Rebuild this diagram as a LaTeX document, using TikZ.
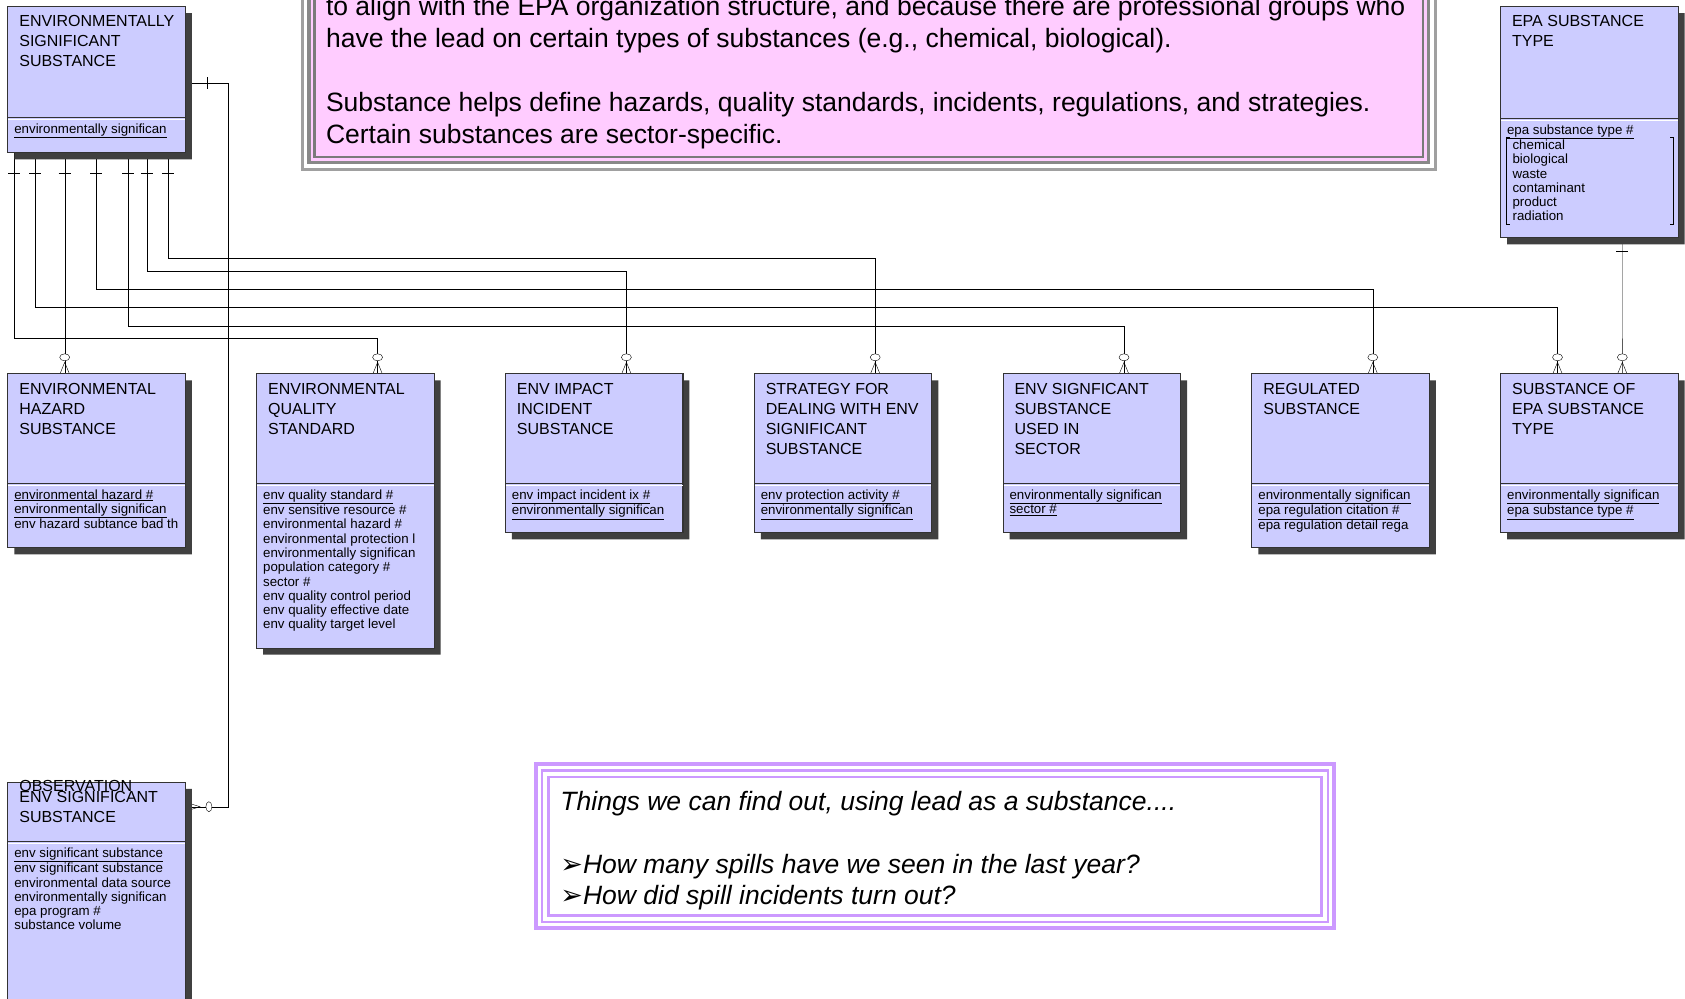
\documentclass[tikz,border=0pt]{standalone}
\usepackage{fontspec}
\setmainfont{Liberation Sans}
\newfontfamily\arrowfont{DejaVu Sans}
\usetikzlibrary{positioning, shapes.multipart, shadows, backgrounds}
\definecolor{entblue}{RGB}{204, 204, 255}
\definecolor{entshadow}{RGB}{64, 64, 64}
\definecolor{notepink}{RGB}{255, 204, 255}
\definecolor{notegray}{RGB}{136, 136, 136}
\definecolor{notepurple}{RGB}{204, 153, 255}
\newcommand{\enttitle}[2][97.5pt]{\parbox[t][#1][t]{160pt}{\vspace*{3pt}\fontsize{16}{20}\selectfont\leftskip=5pt #2}}
\newcommand{\entattrs}[2]{\parbox[t][#1][t]{164pt}{#2}}

\begin{document}
\begin{tikzpicture}[x=1pt, y=-1pt, line width=0.9pt,
    entity/.style={rectangle split, rectangle split parts=2, rectangle split part align=left,
      draw=black!80, fill=entblue, line width=1.1pt, minimum width=177.5pt,
      inner xsep=6.5pt, inner ysep=5.5pt, font=\fontsize{13.3}{14.3}\selectfont,
      drop shadow={shadow xshift=6.5pt, shadow yshift=-6.5pt, fill=entshadow, opacity=1}}]
  \useasboundingbox (0,0) rectangle (1685,998);

  \fill[white] (301,-100) rectangle (1436.7,170.7);
  \draw[notegray!80, line width=3pt] (302.5,-100) rectangle (1435.2,169.2);
  \draw[notegray, line width=3.5pt, fill=notepink] (309,-100) rectangle (1428.7,162.7);
  \draw[notegray!90!black, line width=2.5pt] (314.5,-100) rectangle (1423.2,157.2);
  \node[anchor=south west, inner sep=0pt, align=left, font=\fontsize{26.5}{32}\selectfont] (why) at (325.6,149.6)
    {to align with the EPA organization structure, and because there are professional groups who\\
     have the lead on certain types of substances (e.g., chemical, biological).\\[32pt]
     Substance helps define hazards, quality standards, incidents, regulations, and strategies.\\
     Certain substances are sector-specific.};

  \fill[white] (534,762.3) rectangle (1336,930);
  \draw[notepurple, line width=3.7pt] (535.85,764.15) rectangle (1334.15,928.15);
  \draw[notepurple, line width=2.6pt] (542,770.3) rectangle (1328,922);
  \draw[notepurple, line width=2.6pt] (548.5,776.8) rectangle (1321.5,915.5);
  \node[anchor=south west, inner sep=0pt, align=left, font=\itshape\fontsize{26.5}{31.5}\selectfont] (ask) at (560,910.5)
    {Things we can find out, using lead as a substance....\\[31.5pt]
     {\arrowfont\upshape\fontsize{27}{31.5}\selectfont ➢}How many spills have we seen in the last year?\\
     {\arrowfont\upshape\fontsize{27}{31.5}\selectfont ➢}How did spill incidents turn out?};

  \node[entity, anchor=north west] (ess) at (7.3,6)
    {\enttitle[99pt]{ENVIRONMENTALLY\\SIGNIFICANT\\SUBSTANCE}
     \nodepart{two}\entattrs{23pt}{\underline{environmentally significan}}};
  \node[entity, anchor=north west] (ety) at (1500,6)
    {\enttitle[99.7pt]{EPA SUBSTANCE\\TYPE}
     \nodepart{two}\entattrs{107.3pt}{\underline{epa substance type \#}\\\hspace*{5.5pt}chemical\\\hspace*{5.5pt}biological\\
     \hspace*{5.5pt}waste\\\hspace*{5.5pt}contaminant\\\hspace*{5.5pt}product\\\hspace*{5.5pt}radiation}};
  \node[entity, anchor=north west] (haz) at (7.3,373.3)
    {\enttitle{ENVIRONMENTAL\\HAZARD\\SUBSTANCE}
     \nodepart{two}\entattrs{52.3pt}{\underline{environmental hazard \#}\\\underline{environmentally significan}\\env hazard subtance bad th}};
  \node[entity, right=70.2pt of haz.north east, anchor=north west] (eqs)
    {\enttitle{ENVIRONMENTAL\\QUALITY\\STANDARD}
     \nodepart{two}\entattrs{152.5pt}{\underline{env quality standard \#}\\env sensitive resource \#\\environmental hazard \#\\
     environmental protection l\\environmentally significan\\population category \#\\sector \#\\
     env quality control period\\env quality effective date\\env quality target level}};
  \node[entity, right=70.2pt of eqs.north east, anchor=north west] (imp)
    {\enttitle{ENV IMPACT\\INCIDENT\\SUBSTANCE}
     \nodepart{two}\entattrs{37.3pt}{\underline{env impact incident ix \#}\\\underline{environmentally significan}}};
  \node[entity, right=70.2pt of imp.north east, anchor=north west] (strat)
    {\enttitle{STRATEGY FOR\\DEALING WITH ENV\\SIGNIFICANT\\SUBSTANCE}
     \nodepart{two}\entattrs{37.3pt}{\underline{env protection activity \#}\\\underline{environmentally significan}}};
  \node[entity, right=70.2pt of strat.north east, anchor=north west] (sect)
    {\enttitle{ENV SIGNFICANT\\SUBSTANCE\\USED IN\\SECTOR}
     \nodepart{two}\entattrs{37.3pt}{\underline{environmentally significan}\\\underline{sector \#}}};
  \node[entity, right=70.2pt of sect.north east, anchor=north west] (reg)
    {\enttitle{REGULATED\\SUBSTANCE}
     \nodepart{two}\entattrs{52.3pt}{\underline{environmentally significan}\\\underline{epa regulation citation \#}\\epa regulation detail rega}};
  \node[entity, right=70.2pt of reg.north east, anchor=north west] (ofty)
    {\enttitle{SUBSTANCE OF\\EPA SUBSTANCE\\TYPE}
     \nodepart{two}\entattrs{37.3pt}{\underline{environmentally significan}\\\underline{epa substance type \#}}};
  \node[entity, anchor=north west] (obs) at (7.3,781.7)
    {\enttitle[47.3pt]{\leavevmode\rlap{\smash{\raisebox{10.5pt}{OBSERVATION}}}ENV SIGNIFICANT\\SUBSTANCE}
     \nodepart{two}\entattrs{146pt}{\underline{env significant substance}\\env significant substance\\environmental data source\\
     environmentally significan\\epa program \#\\substance volume}};

  \foreach \n in {ess, ety, haz, eqs, imp, strat, sect, reg, ofty, obs}
    \draw[white, line width=0.9pt] ([shift={(1pt,-1.6pt)}]\n.text split west) -- ([shift={(-1pt,-1.6pt)}]\n.text split east);
  \draw[line width=0.7pt] ([shift={(9.7pt,-19pt)}]ety.text split west) -- ++(-3pt,0pt) -- ++(0pt,-86.5pt) -- ++(3pt,0pt);
  \draw[line width=0.7pt] ([shift={(-8.3pt,-19pt)}]ety.text split east) -- ++(3pt,0pt) -- ++(0pt,-86.5pt) -- ++(-3pt,0pt);

  \foreach \i/\dx in {1/7, 2/28, 3/57.4, 4/88.7, 5/120.7, 6/139.6, 7/160.6}
    \coordinate (ess-b\i) at ([xshift=\dx pt]ess.south west);
  \coordinate (haz-in) at ([xshift=57.4pt]haz.north west);
  \foreach \n in {eqs, imp, strat, sect, reg}
    \coordinate (\n-in) at ([xshift=121.5pt]\n.north west);
  \coordinate (ofty-in1) at ([xshift=57.4pt]ofty.north west);
  \coordinate (ofty-in2) at ([xshift=122.2pt]ofty.north west);
  \coordinate (ety-out) at ([xshift=122.2pt]ety.south west);
  \coordinate (ess-out) at ([yshift=-3.7pt]ess.east);
  \coordinate (obs-in) at ([yshift=-25pt]obs.north east);

  \begin{scope}[on background layer]
    \fill[white] (0,0) rectangle (1685,998);
    \foreach \s/\t/\h in {ess-b1/eqs-in/337.7, ess-b2/ofty-in1/307.3, ess-b4/reg-in/289.3,
        ess-b5/sect-in/325.7, ess-b6/imp-in/270.7, ess-b7/strat-in/258.3}
      \draw (\s) -- (\s |- 0,\h) -| (\t);
    \draw (ess-b3) -- (haz-in);
    \draw (ety-out) -- (ofty-in2);
    \draw (ess-out) -- ++(42.7,0) |- (obs-in);
    \foreach \i in {1,...,7}
      \draw ([shift={(-6pt,-20pt)}]ess-b\i) -- ++(12pt,0pt);
    \draw ([shift={(-6pt,-13pt)}]ety-out) -- ++(12pt,0pt);
    \draw ([shift={(21.7pt,6pt)}]ess-out) -- ++(0pt,-12pt);
    \foreach \c in {haz-in, eqs-in, imp-in, strat-in, sect-in, reg-in, ofty-in1, ofty-in2} {
      \draw ([xshift=-4.5pt]\c) -- ([yshift=11pt]\c) -- ([xshift=4.5pt]\c);
      \draw[fill=white] ([yshift=16pt]\c) ellipse [x radius=5pt, y radius=3.5pt];
    }
    \draw ([yshift=4.5pt]obs-in) -- ([xshift=14pt]obs-in) -- ([yshift=-4.5pt]obs-in);
    \draw[fill=white] ([xshift=23pt]obs-in) ellipse [x radius=3pt, y radius=5pt];
  \end{scope}
\end{tikzpicture}
\end{document}
